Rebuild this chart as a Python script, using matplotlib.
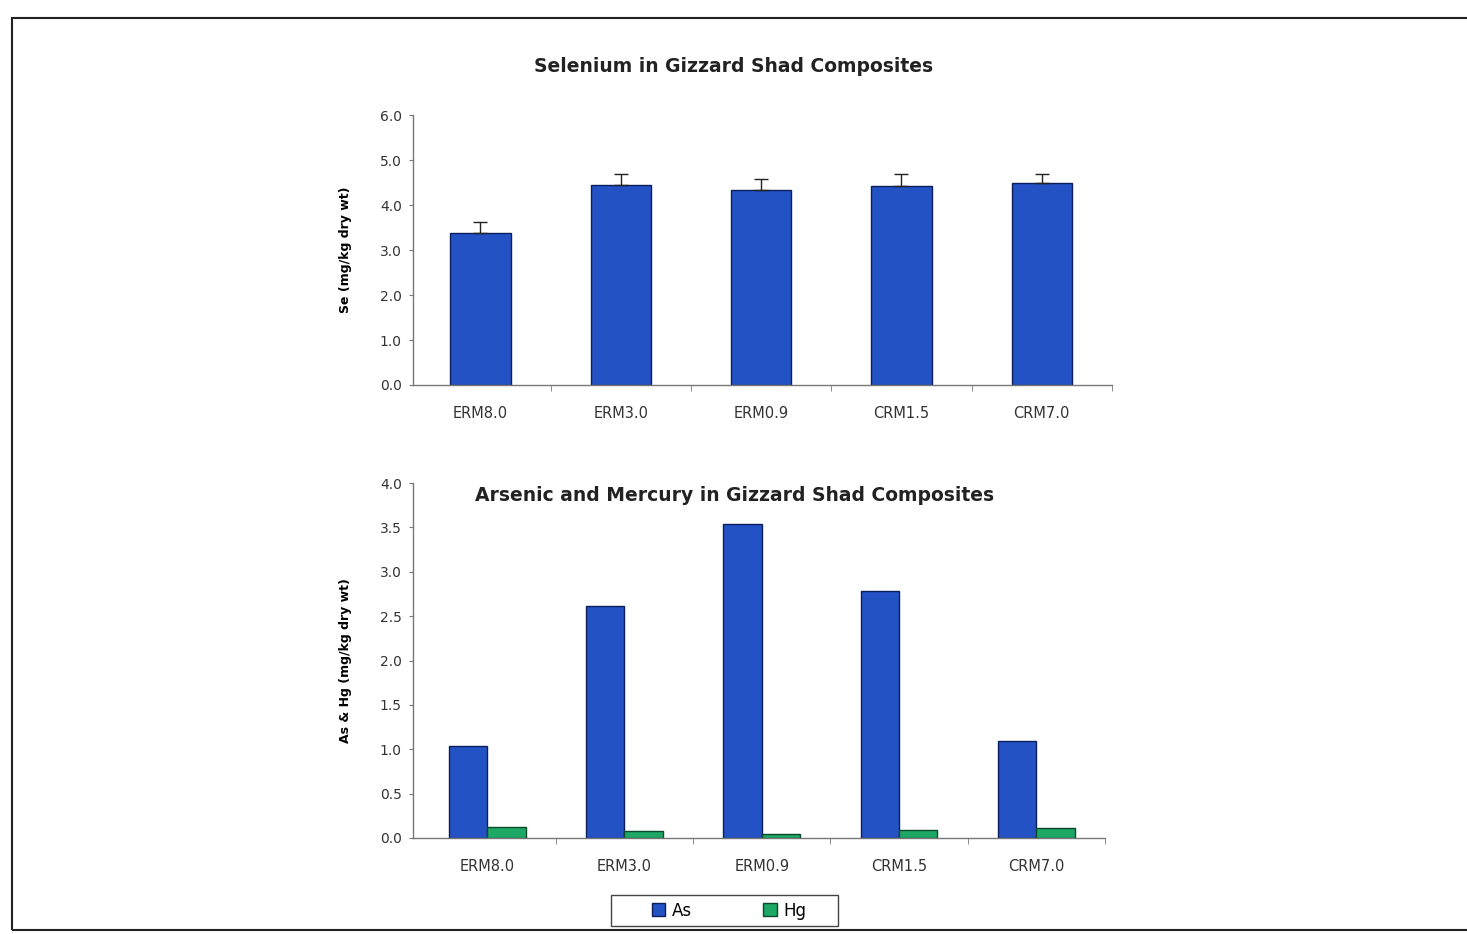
import numpy as np
import matplotlib
matplotlib.use("Agg")
import matplotlib.pyplot as plt
from matplotlib.patches import Rectangle

# sites
sites = ["ERM8.0", "ERM3.0", "ERM0.9", "CRM1.5", "CRM7.0"]

# selenium (mg/kg dry wt) with upper error
se_mean = [3.38, 4.45, 4.34, 4.43, 4.48]
se_err = [0.25, 0.23, 0.23, 0.25, 0.20]

# arsenic and mercury (mg/kg dry wt)
as_vals = [1.04, 2.61, 3.54, 2.78, 1.09]
hg_vals = [0.12, 0.08, 0.05, 0.09, 0.11]

se_ticks = [0, 1, 2, 3, 4, 5, 6]
ashg_ticks = [0, 0.5, 1.0, 1.5, 2.0, 2.5, 3.0, 3.5, 4.0]

blue = "#2352c4"
green = "#1ea866"
txt = "#333333"

fig = plt.figure(figsize=(14.67, 9.34), dpi=100)

# frame around the page
fig.patches.append(Rectangle((12 / 1467, 4 / 934), 1.0, 912 / 934, transform=fig.transFigure,
                             fill=False, edgecolor="#222222", linewidth=1.5))

x = np.arange(len(sites))


def style_axes(ax, left):
    for s in ["top", "right"]:
        ax.spines[s].set_visible(False)
    for s in ["left", "bottom"]:
        ax.spines[s].set_color("#777777")
        ax.spines[s].set_linewidth(1.0)
    ax.set_xlim(-left, len(sites) - 0.5)
    ax.set_xticks(x)
    ax.set_xticklabels(sites, fontsize=10.5, color=txt)
    ax.set_xticks(np.arange(1, len(sites) + 1) - 0.5, minor=True)
    ax.tick_params(axis="x", which="major", length=0, pad=15)
    ax.tick_params(axis="x", which="minor", length=4, color="#777777")
    ax.tick_params(axis="y", length=3, color="#777777", labelsize=10, labelcolor=txt, pad=5)


# Selenium
ax1 = fig.add_axes([0.2815, 0.5878, 0.4765, 0.289])
ax1.bar(x, se_mean, width=0.43, color=blue, edgecolor="#0c1f5a", linewidth=1.0,
        yerr=[np.zeros(len(se_err)), se_err], error_kw=dict(ecolor="#222222", capsize=5, elinewidth=1.0))
ax1.set_ylim(0, 6)
ax1.set_yticks(se_ticks)
ax1.set_yticklabels([f"{v:.1f}" for v in se_ticks])
style_axes(ax1, 0.48)
ax1.set_ylabel("Se (mg/kg dry wt)", fontsize=9, fontweight="bold", labelpad=20)
fig.text(0.5, 0.929, "Selenium in Gizzard Shad Composites", ha="center", va="center",
         fontsize=13.5, fontweight="bold", color="#222222")

# Arsenic and mercury
ax2 = fig.add_axes([0.2815, 0.1028, 0.4717, 0.380])
w = 0.28
ax2.bar(x - w / 2, as_vals, width=w, color=blue, edgecolor="#0c1f5a", linewidth=1.0, label="As")
ax2.bar(x + w / 2, hg_vals, width=w, color=green, edgecolor="#0a4a2a", linewidth=1.0, label="Hg")
ax2.set_ylim(0, 4)
ax2.set_yticks(ashg_ticks)
ax2.set_yticklabels([f"{v:.1f}" for v in ashg_ticks])
style_axes(ax2, 0.54)
ax2.set_ylabel("As & Hg (mg/kg dry wt)", fontsize=9, fontweight="bold", labelpad=20)
ax2.text(0.465, 0.965, "Arsenic and Mercury in Gizzard Shad Composites", transform=ax2.transAxes,
         ha="center", va="center", fontsize=13.5, fontweight="bold", color="#222222")

# legend box drawn separately so it can be wider than its entries
fig.patches.append(Rectangle((611 / 1467, 1 - 926 / 934), 227 / 1467, 31 / 934, transform=fig.transFigure,
                             fill=False, edgecolor="#444444", linewidth=1.0))
fig.legend(loc="center", bbox_to_anchor=(0.497, 0.025), ncol=2, fontsize=12, frameon=False,
           handlelength=0.8, handleheight=0.8, columnspacing=4.3, handletextpad=0.4)

fig.savefig("out.png", dpi=100, facecolor="white")
